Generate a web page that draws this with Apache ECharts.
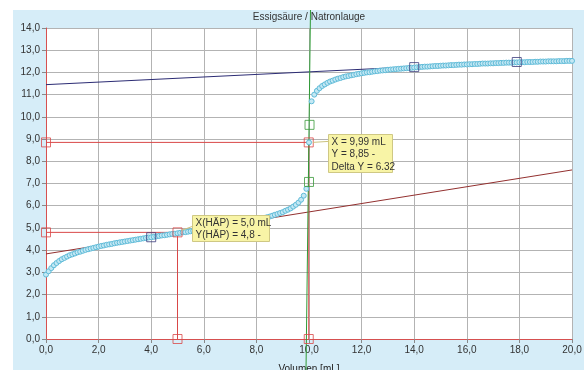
<!DOCTYPE html>
<html>
<head>
<meta charset="utf-8">
<script src="https://cdn.jsdelivr.net/npm/echarts@6/dist/echarts.min.js"></script>
<style>
  html, body { margin: 0; padding: 0; background: #ffffff; width: 584px; height: 370px; overflow: hidden; }
  #chart { position: absolute; left: 13px; top: 10px; width: 571px; height: 360px; background: #d6edf8; }
</style>
</head>
<body>
<div id="chart"></div>
<script>
// Titration: acetic acid (Essigsäure) with sodium hydroxide (Natronlauge)
const chartTitle = 'Essigsäure / Natronlauge';
const xAxisName = 'Volumen [mL]';

// measured pH, one reading every 0.1 mL from 0.0 to 20.0 mL
const volumeStep = 0.1;
const phValues = [
  2.90, 3.05, 3.19, 3.32, 3.42, 3.51, 3.59, 3.65, 3.71, 3.77,
  3.81, 3.85, 3.90, 3.93, 3.97, 4.01, 4.04, 4.07, 4.10, 4.13,
  4.16, 4.19, 4.21, 4.24, 4.26, 4.28, 4.31, 4.33, 4.35, 4.37,
  4.39, 4.41, 4.43, 4.45, 4.47, 4.49, 4.51, 4.53, 4.55, 4.57,
  4.58, 4.60, 4.62, 4.64, 4.66, 4.67, 4.69, 4.71, 4.73, 4.74,
  4.76, 4.78, 4.80, 4.81, 4.83, 4.85, 4.87, 4.88, 4.90, 4.92,
  4.94, 4.95, 4.97, 4.99, 5.01, 5.03, 5.05, 5.07, 5.09, 5.11,
  5.13, 5.15, 5.17, 5.19, 5.21, 5.24, 5.26, 5.29, 5.31, 5.34,
  5.36, 5.39, 5.42, 5.45, 5.48, 5.51, 5.55, 5.59, 5.63, 5.67,
  5.71, 5.77, 5.82, 5.88, 5.96, 6.04, 6.14, 6.27, 6.45, 6.76,
  8.85, 10.70, 11.00, 11.17, 11.29, 11.39, 11.46, 11.53, 11.59, 11.63,
  11.68, 11.72, 11.75, 11.79, 11.82, 11.84, 11.87, 11.89, 11.92, 11.94,
  11.96, 11.98, 12.00, 12.01, 12.03, 12.05, 12.06, 12.08, 12.09, 12.10,
  12.12, 12.13, 12.14, 12.15, 12.16, 12.17, 12.18, 12.19, 12.20, 12.21,
  12.22, 12.23, 12.24, 12.25, 12.26, 12.26, 12.27, 12.28, 12.29, 12.29,
  12.30, 12.31, 12.31, 12.32, 12.33, 12.33, 12.34, 12.35, 12.35, 12.36,
  12.36, 12.37, 12.37, 12.38, 12.38, 12.39, 12.40, 12.40, 12.40, 12.41,
  12.41, 12.42, 12.42, 12.43, 12.43, 12.44, 12.44, 12.44, 12.45, 12.45,
  12.46, 12.46, 12.46, 12.47, 12.47, 12.47, 12.48, 12.48, 12.49, 12.49,
  12.49, 12.50, 12.50, 12.50, 12.50, 12.51, 12.51, 12.51, 12.52, 12.52,
  12.52
];

// tangent points and tangent lines
const tangentPoints = [[4.0, 4.58], [14.0, 12.24], [17.9, 12.47]];
const upperTangent = [[0, 11.45], [20, 12.60]];
const lowerTangent = [[0, 3.83], [20, 7.61]];

// steep line through the jump
const jumpPoints = [[10.0, 7.07], [10.02, 9.64]];
const jumpLine = [[9.886, -1.40], [10.057, 14.82]];

// equivalence point and half-equivalence point (HÄP)
const eqX = 9.99, eqY = 8.85;
const hapX = 5.0, hapY = 4.8;
const eqLines = [[0, eqY], [eqX, eqY], [eqX, 0]];
const hapLines = [[0, hapY], [hapX, hapY], [hapX, 0]];
const eqLabel = ['X = 9,99 mL', 'Y = 8,85 -', 'Delta Y = 6.32'];
const hapLabel = ['X(HÄP) = 5,0 mL', 'Y(HÄP) = 4,8 -'];

const curveData = phValues.map((v, i) => [Math.round(i * volumeStep * 10) / 10, v]);
const comma = v => v.toFixed(1).replace('.', ',');
const FONT = '"Liberation Sans", Arial, sans-serif';
const FS = 10;

const chart = echarts.init(document.getElementById('chart'), null, { renderer: 'canvas' });

const squareStyle = c => ({ color: 'rgba(255,255,255,0)', borderColor: c, borderWidth: 1 });

chart.setOption({
  animation: false,
  backgroundColor: 'transparent',
  textStyle: { fontFamily: FONT },
  grid: {
    left: 33, right: 12, top: 18, bottom: 31,
    outerBoundsMode: 'none', containLabel: false,
    show: true, backgroundColor: '#ffffff', borderWidth: 0
  },
  xAxis: {
    type: 'value', min: 0, max: 20, interval: 2,
    name: xAxisName, nameLocation: 'middle', nameGap: 25,
    nameTextStyle: { color: '#222', fontSize: FS, fontFamily: FONT },
    axisLine: { show: true, onZero: false, lineStyle: { color: '#d65050', width: 1 } },
    axisTick: { show: true, length: 4, lineStyle: { color: '#888' } },
    axisLabel: { formatter: comma, color: '#333', fontSize: FS, margin: 6, fontFamily: FONT },
    splitLine: { show: true, lineStyle: { color: '#b3b3b3', width: 1 } }
  },
  yAxis: {
    type: 'value', min: 0, max: 14, interval: 1,
    axisLine: { show: true, onZero: false, lineStyle: { color: '#d65050', width: 1 } },
    axisTick: { show: true, length: 4, lineStyle: { color: '#888' } },
    axisLabel: { formatter: comma, color: '#333', fontSize: FS, margin: 6, fontFamily: FONT },
    splitLine: { show: true, lineStyle: { color: '#b3b3b3', width: 1 } }
  },
  series: [
    { type: 'line', data: upperTangent, symbol: 'none', z: 2,
      lineStyle: { color: '#2c2c74', width: 1 } },
    { type: 'line', data: lowerTangent, symbol: 'none', z: 2,
      lineStyle: { color: '#93302f', width: 1 } },
    { type: 'line', data: eqLines, symbol: 'none', z: 2,
      lineStyle: { color: '#d94848', width: 1 } },
    { type: 'line', data: hapLines, symbol: 'none', z: 2,
      lineStyle: { color: '#d94848', width: 1 } },
    { type: 'line', data: jumpLine, symbol: 'none', z: 2, clip: false,
      lineStyle: { color: '#2e9a35', width: 1 } },
    { type: 'scatter', data: curveData, symbol: 'circle', symbolSize: 5, z: 3,
      itemStyle: { color: '#c4e8f4', borderColor: '#5fbbd8', borderWidth: 1, opacity: 1 } },
    { type: 'scatter', data: tangentPoints, symbol: 'rect', symbolSize: 9, z: 4,
      itemStyle: squareStyle('#3b3b7c') },
    { type: 'scatter', data: jumpPoints, symbol: 'rect', symbolSize: 9, z: 4,
      itemStyle: squareStyle('#3a9a3a') },
    { type: 'scatter', data: [eqLines[0], eqLines[1], eqLines[2], hapLines[0], hapLines[1], hapLines[2]],
      symbol: 'rect', symbolSize: 9, z: 4, itemStyle: squareStyle('#d94848') }
  ]
});

// title and annotation boxes, anchored to the data points they describe
const plotLeft = chart.convertToPixel({ gridIndex: 0 }, [0, 0])[0];
const plotRight = chart.convertToPixel({ gridIndex: 0 }, [20, 0])[0];
const eqPx = chart.convertToPixel({ gridIndex: 0 }, [eqX, eqY]);
const hapPx = chart.convertToPixel({ gridIndex: 0 }, [hapX, hapY]);

function noteBox(anchor, dx, dy, w, h, lines, lead) {
  const bx = Math.round(anchor[0] + dx) + 0.5;
  const by = Math.round(anchor[1] + dy) + 0.5;
  return [
    { type: 'line', z: 100, zlevel: 1,
      shape: { x1: anchor[0] + lead[0], y1: anchor[1] + lead[1], x2: bx, y2: anchor[1] + lead[2] },
      style: { stroke: '#cbc27e', lineWidth: 1 } },
    { type: 'rect', z: 101, zlevel: 1,
      shape: { x: bx, y: by, width: w, height: h },
      style: { fill: '#f8f4a6', stroke: '#cfc884', lineWidth: 1 } },
    { type: 'text', z: 102, zlevel: 1, x: bx + 3, y: by + 1.5,
      style: { text: lines.join('\n'), font: FS + 'px ' + FONT, lineHeight: 12.3, fill: '#333', verticalAlign: 'top' } }
  ];
}

chart.setOption({
  graphic: [
    { type: 'text', x: (plotLeft + plotRight) / 2, y: 2, z: 100,
      style: { text: chartTitle, font: FS + 'px ' + FONT, fill: '#333', align: 'center', verticalAlign: 'top' } },
    ...noteBox(eqPx, 19, -8, 64, 38, eqLabel, [4, 0, -1]),
    ...noteBox(hapPx, 14, -17, 77, 26, hapLabel, [4, -2, -6])
  ]
});
</script>
</body>
</html>
